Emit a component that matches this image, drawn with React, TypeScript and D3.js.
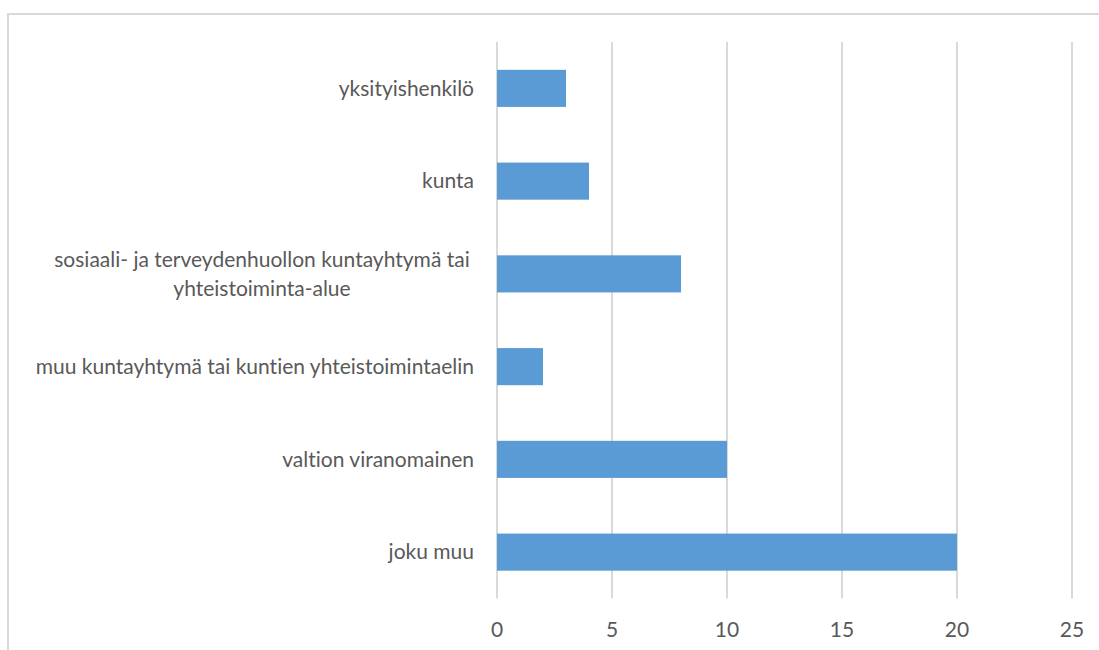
import React from 'react';
import * as d3 from 'd3';

const categories = [
  'yksityishenkilö',
  'kunta',
  'sosiaali- ja terveydenhuollon kuntayhtymä tai|yhteistoiminta-alue',
  'muu kuntayhtymä tai kuntien yhteistoimintaelin',
  'valtion viranomainen',
  'joku muu',
];
const values = [3, 4, 8, 2, 10, 20];
const xTicks = [0, 5, 10, 15, 20, 25];

const W = 1099;
const H = 650;
const font = 'Lato, "Open Sans", sans-serif';
const textStyle = { fontVariantLigatures: 'none' } as React.CSSProperties;

const App = () => {
  const x = d3.scaleLinear().domain([0, 25]).range([497, 1072]);
  const y = d3.scaleBand<string>()
    .domain(categories)
    .range([42, 598.5])
    .paddingInner(0.6)
    .paddingOuter(0.3);

  return (
    <svg
      width={W}
      height={H}
      style={{ position: 'absolute', left: 0, top: 0, background: '#fff' }}
    >
      {/* chart border (only top and left visible) */}
      <line x1={8} x2={W} y1={14} y2={14} stroke="#d9d9d9" strokeWidth={2} />
      <line x1={8} x2={8} y1={13} y2={H} stroke="#d9d9d9" strokeWidth={2} />

      {/* gridlines */}
      {xTicks.map((t) => (
        <line
          key={t}
          x1={x(t)}
          x2={x(t)}
          y1={42}
          y2={598.5}
          stroke="#d9d9d9"
          strokeWidth={2}
        />
      ))}

      {/* bars */}
      {categories.map((c, i) => (
        <rect
          key={c}
          x={x(0)}
          y={y(c)}
          width={x(values[i]) - x(0)}
          height={y.bandwidth()}
          fill="#5b9bd5"
        />
      ))}

      {/* category labels */}
      {categories.map((c) => {
        const lines = c.split('|');
        const cy = (y(c) || 0) + y.bandwidth() / 2;
        const lh = 29;
        if (lines.length === 1) {
          return (
            <text
              key={c}
              x={474}
              y={cy}
              dy="0.35em"
              textAnchor="end"
              fill="#595959"
              fontSize={21}
              fontFamily={font}
              style={textStyle}
            >
              {c}
            </text>
          );
        }
        return (
          <text
            key={c}
            x={262}
            y={cy - ((lines.length - 1) * lh) / 2}
            textAnchor="middle"
            fill="#595959"
            fontSize={21}
            fontFamily={font}
            style={textStyle}
          >
            {lines.map((l, j) => (
              <tspan key={j} x={262} dy={j === 0 ? '0.35em' : lh}>
                {l}
              </tspan>
            ))}
          </text>
        );
      })}

      {/* x tick labels */}
      {xTicks.map((t) => (
        <text
          key={t}
          x={x(t)}
          y={630}
          dy="0.35em"
          textAnchor="middle"
          fill="#595959"
          fontSize={21}
          fontFamily={font}
          style={textStyle}
        >
          {t}
        </text>
      ))}
    </svg>
  );
};

export default App;
